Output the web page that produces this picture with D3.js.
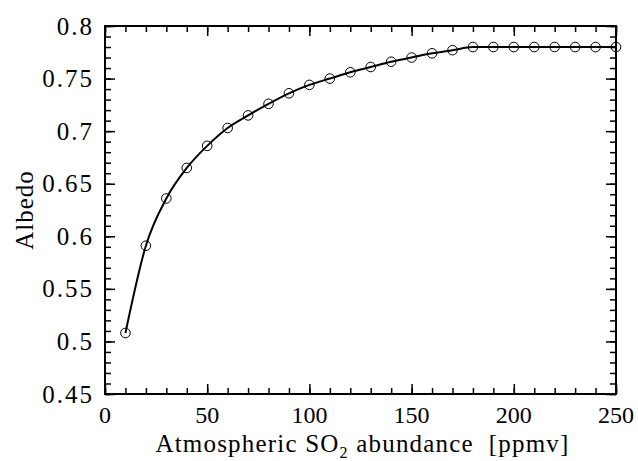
<!DOCTYPE html>
<html>
<head>
<meta charset="utf-8">
<script src="https://cdn.jsdelivr.net/npm/d3@7"></script>
<style>
body { margin: 0; background: #fff; }
text { font-family: "Liberation Serif", "DejaVu Serif", serif; fill: #000; white-space: pre; }
</style>
</head>
<body>
<script>
// data
var so2 = [10, 20, 30, 40, 50, 60, 70, 80, 90, 100, 110, 120, 130, 140, 150, 160, 170, 180, 190, 200, 210, 220, 230, 240, 250];
var albedo = [0.508, 0.591, 0.636, 0.665, 0.686, 0.703, 0.715, 0.726, 0.736, 0.744, 0.750, 0.756, 0.761, 0.766, 0.770, 0.774, 0.777, 0.780, 0.780, 0.780, 0.780, 0.780, 0.780, 0.780, 0.780];
var xTicks = [0, 50, 100, 150, 200, 250];
var yTicks = [0.45, 0.5, 0.55, 0.6, 0.65, 0.7, 0.75, 0.8];

const margin = { top: 26, right: 22, bottom: 67, left: 105 };
const W = 638, H = 461;
const width = W - margin.left - margin.right;
const height = H - margin.top - margin.bottom;

const x = d3.scaleLinear().domain([0, 250]).range([0, width]);
const y = d3.scaleLinear().domain([0.45, 0.8]).range([height, 0]);

const svg = d3.select("body").append("svg")
	.attr("width", W)
	.attr("height", H)
	.append("g")
	.attr("transform", "translate(" + margin.left + "," + margin.top + ")");

const xMinor = d3.range(0, 251, 10);
const yMinor = d3.range(0, 36).map(function (i) { return 0.45 + i * 0.01; });

// ticks pointing inward on all four sides
function tickAxis(axisFn, scale, vals, len, transform) {
	svg.append("g")
		.attr("transform", transform)
		.call(axisFn(scale).tickValues(vals).tickSize(len).tickFormat(""))
		.call(function (g) { g.select(".domain").remove(); })
		.selectAll("line").attr("stroke", "#000").attr("stroke-width", 1.5);
}
tickAxis(d3.axisTop, x, xMinor, 6, "translate(0," + height + ")");
tickAxis(d3.axisTop, x, xTicks, 10, "translate(0," + height + ")");
tickAxis(d3.axisBottom, x, xMinor, 6, "translate(0,0)");
tickAxis(d3.axisBottom, x, xTicks, 10, "translate(0,0)");
tickAxis(d3.axisRight, y, yMinor, 6, "translate(0,0)");
tickAxis(d3.axisRight, y, yTicks, 10, "translate(0,0)");
tickAxis(d3.axisLeft, y, yMinor, 6, "translate(" + width + ",0)");
tickAxis(d3.axisLeft, y, yTicks, 10, "translate(" + width + ",0)");

svg.append("rect")
	.attr("width", width)
	.attr("height", height)
	.attr("fill", "none")
	.attr("stroke", "#000")
	.attr("stroke-width", 2);

// tick labels
svg.append("g").selectAll("text")
	.data(xTicks)
	.enter().append("text")
	.attr("x", function (d) { return x(d); })
	.attr("y", height + 29)
	.attr("text-anchor", "middle")
	.attr("font-size", 24)
	.text(function (d) { return d; });

svg.append("g").selectAll("text")
	.data(yTicks)
	.enter().append("text")
	.attr("x", -11)
	.attr("y", function (d) { return y(d) + 8.5; })
	.attr("text-anchor", "end")
	.attr("font-size", 25)
	.attr("letter-spacing", 2)
	.text(function (d) { return String(+d.toFixed(2)); });

// axis labels
const xl = svg.append("text")
	.attr("x", width / 2 + 2)
	.attr("y", height + 58)
	.attr("text-anchor", "middle")
	.attr("font-size", 25)
	.attr("letter-spacing", 1.2);
xl.append("tspan").text("Atmospheric SO");
xl.append("tspan").attr("font-size", 16).attr("dy", 6).text("2");
xl.append("tspan").attr("dy", -6).text(" abundance  [ppmv]");

svg.append("text")
	.attr("transform", "rotate(-90)")
	.attr("x", -height / 2)
	.attr("y", -72)
	.attr("text-anchor", "middle")
	.attr("font-size", 25)
	.attr("letter-spacing", 1)
	.text("Albedo");

// curve and markers
const pts = so2.map(function (d, i) { return { x: d, y: albedo[i] }; });

const line = d3.line()
	.x(function (d) { return x(d.x); })
	.y(function (d) { return y(d.y); })
	.curve(d3.curveMonotoneX);

svg.append("path")
	.datum(pts)
	.attr("d", line)
	.attr("fill", "none")
	.attr("stroke", "#000")
	.attr("stroke-width", 2);

svg.selectAll(".dot")
	.data(pts)
	.enter().append("circle")
	.attr("class", "dot")
	.attr("cx", function (d) { return x(d.x); })
	.attr("cy", function (d) { return y(d.y); })
	.attr("r", 4.8)
	.attr("fill", "none")
	.attr("stroke", "#000")
	.attr("stroke-width", 1);
</script>
</body>
</html>
